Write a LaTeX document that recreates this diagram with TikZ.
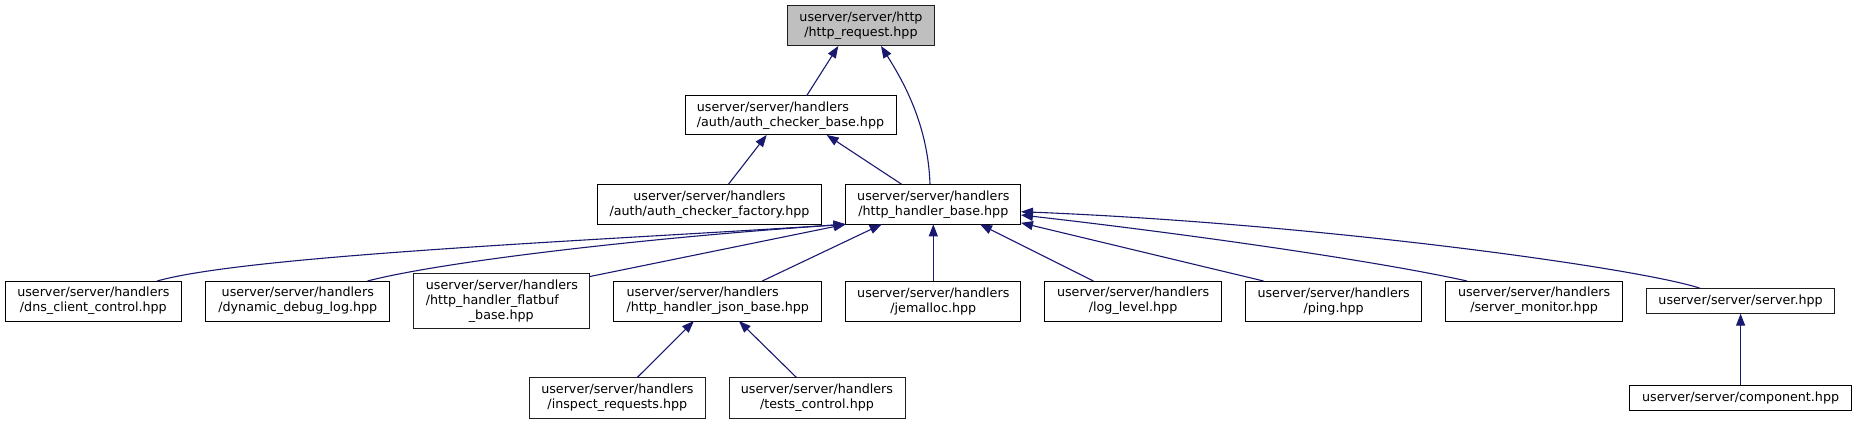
\documentclass[tikz,border=0pt]{standalone}
\usepackage{fontspec}
\setmainfont{DejaVu Sans}
\usepackage{tikz}
\usetikzlibrary{arrows.meta,positioning}
\definecolor{edgeblue}{HTML}{191970}
\definecolor{curfill}{HTML}{BFBFBF}
\definecolor{nolink}{HTML}{1E1E1E}

\begin{document}
\begin{tikzpicture}[
    x=1pt, y=-1pt,
    node distance=24pt,
    hdr/.style={draw, line width=1pt, fill=white, inner sep=0pt, outer sep=0pt, align=center, font=\fontsize{12.7}{15}\selectfont, minimum width=176pt, minimum height=40pt},
    undoc/.style={hdr, draw=nolink},
    dep/.style={-{Triangle[length=12pt, width=9pt]}, line width=1.1pt, color=edgeblue}
]
    \fill[white] (0,0) rectangle (1856,424);
    \useasboundingbox (0,0) rectangle (1856,424);

    \node[undoc, fill=curfill, minimum width=146.7pt, minimum height=40.3pt] (request) at (861,25.8) {userver/server/http\\/http\_request.hpp};
    \node[hdr, align=left, minimum width=211pt, minimum height=39.3pt] (checkerbase) at (790.5,115.3) {userver/server/handlers\\/auth/auth\_checker\_base.hpp};
    \node[hdr, minimum width=175.3pt] (handlerbase) at (933.3,204.3) {userver/server/handlers\\/http\_handler\_base.hpp};
    \node[hdr, minimum width=224.3pt, left=of handlerbase] (checkerfactory) {userver/server/handlers\\/auth/auth\_checker\_factory.hpp};

    \node[hdr, minimum width=175.3pt, below=56.7pt of handlerbase] (jemalloc) {userver/server/handlers\\/jemalloc.hpp};
    \node[hdr, align=left, minimum width=207.7pt, left=of jemalloc] (jsonbase) {userver/server/handlers\\/http\_handler\_json\_base.hpp};
    \node[undoc, align=left, minimum width=176pt, minimum height=55pt, left=of jsonbase] (flatbuf) {userver/server/handlers\\/http\_handler\_flatbuf\\\hspace*{43pt}\_base.hpp};
    \node[hdr, minimum width=184.3pt, left=of flatbuf] (debuglog) {userver/server/handlers\\/dynamic\_debug\_log.hpp};
    \node[hdr, minimum width=176.6pt, left=of debuglog] (dnsclient) {userver/server/handlers\\/dns\_client\_control.hpp};
    \node[hdr, minimum width=176.3pt, right=of jemalloc] (loglevel) {userver/server/handlers\\/log\_level.hpp};
    \node[hdr, minimum width=176.7pt, right=of loglevel] (ping) {userver/server/handlers\\/ping.hpp};
    \node[hdr, minimum width=176.3pt, right=of ping] (monitor) {userver/server/handlers\\/server\_monitor.hpp};
    \node[undoc, minimum width=188.7pt, minimum height=25.4pt, right=of monitor] (server) {userver/server/server.hpp};

    \node[undoc, minimum height=40.6pt] (tests) at (817,398) {userver/server/handlers\\/tests\_control.hpp};
    \node[undoc, minimum width=175.3pt, minimum height=40.6pt, left=of tests] (inspect) {userver/server/handlers\\/inspect\_requests.hpp};
    \node[hdr, minimum width=221.3pt, minimum height=25.7pt, below=71.3pt of server] (component) {userver/server/component.hpp};

    \draw[dep] ([xshift=16.2pt]checkerbase.north) -- ([xshift=-22.7pt]request.south);
    \draw[dep] ([xshift=-3.3pt]handlerbase.north) .. controls +(-2,-60) and +(22,35) .. ([xshift=20pt]request.south);
    \draw[dep] ([xshift=18.9pt]checkerfactory.north) -- ([xshift=-23.8pt]checkerbase.south);
    \draw[dep] ([xshift=-31.6pt]handlerbase.north) -- ([xshift=36.2pt]checkerbase.south);

    \draw[dep] ([xshift=63.7pt]dnsclient.north) .. controls +(93,-26) and +(-246,16) .. (handlerbase.south west);
    \draw[dep] ([xshift=69.7pt]debuglog.north) .. controls +(73,-19) and +(-206,14) .. (handlerbase.south west);
    \draw[dep] ([yshift=-3pt]flatbuf.north east) -- (handlerbase.south west);
    \draw[dep] ([xshift=44.5pt]jsonbase.north) -- ([xshift=-51.6pt]handlerbase.south);
    \draw[dep] (jemalloc) -- (handlerbase);
    \draw[dep] ([xshift=-39.7pt]loglevel.north) -- ([xshift=46.7pt]handlerbase.south);
    \draw[dep] ([xshift=-70pt]ping.north) -- ([yshift=1.5pt]handlerbase.south east);
    \draw[dep] ([xshift=-67pt]monitor.north) .. controls +(-100,-22) and +(150,17) .. ([yshift=9.3pt]handlerbase.south east);
    \draw[dep] ([xshift=-40.4pt]server.north) .. controls +(-60,-20) and +(300,12) .. ([yshift=12.6pt]handlerbase.south east);

    \draw[dep] ([xshift=19.7pt]inspect.north) -- ([xshift=-23.9pt]jsonbase.south);
    \draw[dep] ([xshift=-20.3pt]tests.north) -- ([xshift=21.1pt]jsonbase.south);
    \draw[dep] (component) -- (server);
\end{tikzpicture}
\end{document}
